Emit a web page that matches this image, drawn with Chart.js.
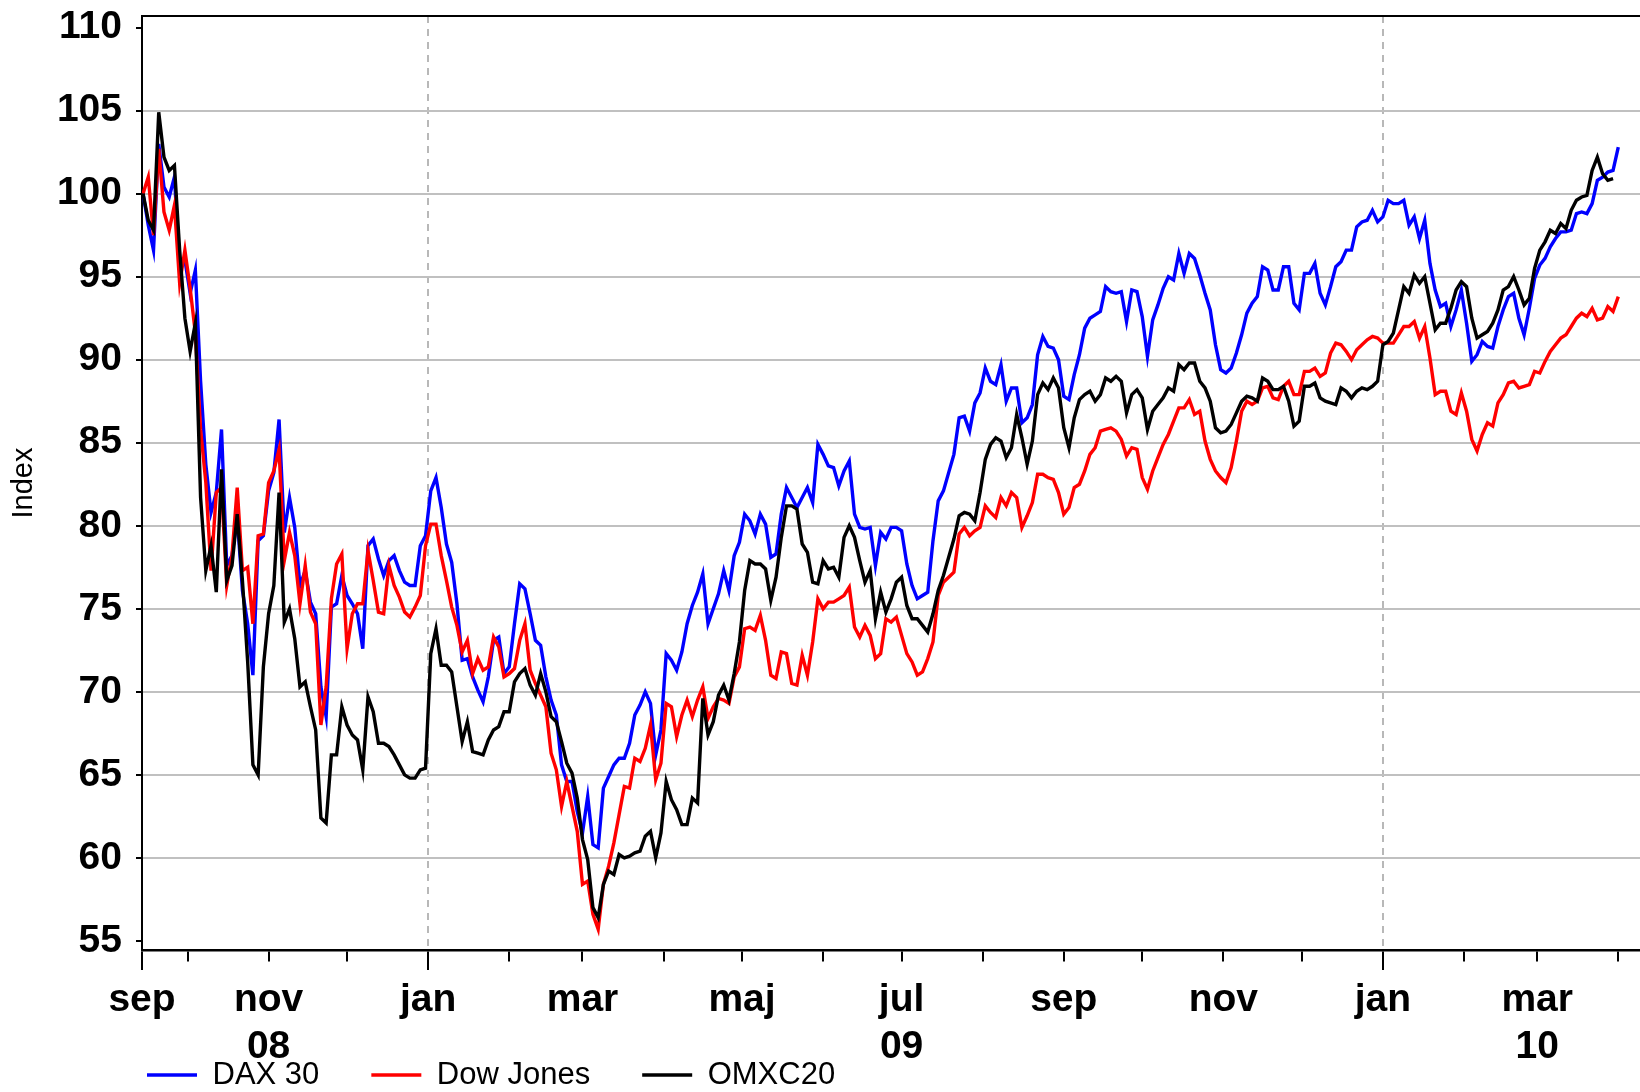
<!DOCTYPE html>
<html>
<head>
<meta charset="utf-8">
<title>DAX 30, Dow Jones, OMXC20</title>
<script src="https://cdn.jsdelivr.net/npm/chart.js@4.4.1/dist/chart.umd.min.js"></script>
<style>
  html, body { margin: 0; padding: 0; background: #ffffff; }
  #wrap { width: 1640px; height: 1092px; }
</style>
</head>
<body>
<div id="wrap"><canvas id="myChart" width="1640" height="1092"></canvas></div>
<script>
// x = days since 1 Sep 2008, one reading every 2nd day from 14 Sep 2008
const firstDay = 13;
const stepDays = 2;

const dax30 = [
  100, 98.1, 96.6, 103, 100.4, 99.8, 101, 95.7, 96, 94,
  95.4, 88.7, 83.7, 80.8, 82, 85.8, 77.6, 78.2, 80.5, 76.1,
  74.1, 71, 79.1, 79.4, 82.1, 83.2, 86.4, 79.6, 81.7, 79.9,
  76.4, 77.3, 75.4, 74.7, 70.3, 68.5, 75.1, 75.3, 77, 75.8,
  75.3, 74.7, 72.6, 78.8, 79.2, 78, 77, 77.9, 78.2, 77.3,
  76.6, 76.4, 76.4, 78.8, 79.4, 82.1, 82.9, 81.1, 78.9, 77.8,
  75.3, 71.9, 72, 70.9, 70.1, 69.4, 70.9, 73.1, 73.3, 71.1,
  71.5, 74.1, 76.5, 76.2, 74.7, 73.1, 72.8, 70.9, 69.5, 68.6,
  65.6, 64.6, 64.6, 62.8, 61.5, 63.7, 60.8, 60.6, 64.2, 64.9,
  65.6, 66, 66, 66.9, 68.6, 69.2, 70, 69.3, 66.2, 67.7,
  72.3, 71.9, 71.3, 72.4, 74.1, 75.2, 76, 77.1, 74.1, 75,
  75.9, 77.3, 76.1, 78.2, 79, 80.7, 80.3, 79.5, 80.7, 80.1,
  78.1, 78.3, 80.7, 82.3, 81.7, 81.1, 81.7, 82.3, 81.4, 84.9,
  84.3, 83.6, 83.5, 82.4, 83.3, 83.9, 80.7, 79.9, 79.8, 79.9,
  77.6, 79.6, 79.2, 79.9, 79.9, 79.7, 77.7, 76.4, 75.6, 75.8,
  76, 79.1, 81.5, 82.1, 83.2, 84.3, 86.5, 86.6, 85.7, 87.4,
  88, 89.5, 88.7, 88.5, 89.7, 87.5, 88.3, 88.3, 86.2, 86.5,
  87.3, 90.3, 91.4, 90.8, 90.7, 90, 87.8, 87.6, 89.1, 90.3,
  91.9, 92.5, 92.7, 92.9, 94.4, 94.1, 94, 94.1, 92.3, 94.2,
  94.1, 92.6, 90.2, 92.4, 93.3, 94.3, 95, 94.8, 96.4, 95.2,
  96.4, 96.1, 95.1, 94, 93, 90.9, 89.4, 89.2, 89.5, 90.4,
  91.5, 92.8, 93.4, 93.8, 95.6, 95.4, 94.2, 94.2, 95.6, 95.6,
  93.4, 93, 95.2, 95.2, 95.8, 94, 93.3, 94.4, 95.6, 95.9,
  96.6, 96.6, 98, 98.3, 98.4, 99, 98.3, 98.6, 99.6, 99.4,
  99.4, 99.6, 98.1, 98.6, 97.3, 98.4, 95.8, 94.2, 93.2, 93.4,
  92, 93, 94.2, 92.2, 89.9, 90.3, 91.1, 90.8, 90.7, 92,
  93, 93.8, 94, 92.5, 91.5, 93.1, 94.9, 95.7, 96.1, 96.8,
  97.3, 97.7, 97.7, 97.8, 98.8, 98.9, 98.8, 99.4, 100.8, 101,
  101.3, 101.4, 102.8
];

const dowJones = [
  100, 101, 97.5, 102.7, 98.9, 97.8, 99.3, 94.6, 96.6, 94.3,
  91.6, 85.8, 82.6, 77.3, 82, 82.3, 76.4, 78.2, 82.3, 77.3,
  77.5, 74.1, 79.4, 79.5, 82.6, 83.3, 84.6, 77.9, 79.6, 78.2,
  75.3, 77.6, 74.8, 74.1, 68, 70.3, 75.6, 77.7, 78.3, 72.6,
  74.7, 75.3, 75.3, 78.5, 76.7, 74.8, 74.7, 77.6, 76.4, 75.7,
  74.8, 74.5, 75.1, 75.8, 78.8, 80.1, 80.1, 78.2, 76.7, 75.1,
  74, 72.4, 73.1, 71.1, 72, 71.3, 71.5, 73.3, 72.7, 70.9,
  71.1, 71.4, 73.1, 74.1, 71.3, 70.5, 69.8, 69.1, 66.3, 65.3,
  63.1, 64.6, 63.1, 61.6, 58.4, 58.6, 56.6, 55.7, 58.4, 59.5,
  60.9, 62.6, 64.3, 64.2, 66, 65.8, 66.6, 68, 64.7, 65.7,
  69.3, 69.1, 67.3, 68.6, 69.5, 68.5, 69.5, 70.3, 68.4, 69.1,
  69.6, 69.5, 69.3, 70.9, 71.5, 73.8, 73.9, 73.7, 74.6, 73.1,
  71, 70.8, 72.4, 72.3, 70.5, 70.4, 72.2, 71, 73, 75.6,
  75, 75.4, 75.4, 75.6, 75.8, 76.3, 73.9, 73.3, 74, 73.4,
  72, 72.3, 74.4, 74.2, 74.5, 73.4, 72.3, 71.8, 71, 71.2,
  72, 73, 75.8, 76.6, 76.9, 77.2, 79.5, 79.9, 79.4, 79.7,
  79.9, 81.2, 80.8, 80.5, 81.7, 81.2, 82, 81.7, 79.9, 80.6,
  81.4, 83.1, 83.1, 82.9, 82.8, 82, 80.7, 81.1, 82.3, 82.5,
  83.3, 84.3, 84.7, 85.7, 85.8, 85.9, 85.7, 85.2, 84.2, 84.7,
  84.6, 82.9, 82.2, 83.3, 84.1, 84.9, 85.5, 86.3, 87.1, 87.1,
  87.6, 86.7, 86.9, 85.1, 84, 83.3, 82.9, 82.6, 83.5, 85.1,
  86.9, 87.5, 87.3, 87.5, 88.3, 88.4, 87.7, 87.6, 88.4, 88.7,
  87.9, 87.9, 89.3, 89.3, 89.5, 89, 89.2, 90.4, 91, 90.9,
  90.5, 90, 90.6, 90.9, 91.2, 91.4, 91.3, 91, 91, 91,
  91.5, 92, 92, 92.3, 91.3, 92, 90.1, 87.9, 88.1, 88.1,
  86.9, 86.7, 88, 86.9, 85.2, 84.5, 85.5, 86.2, 86, 87.4,
  87.9, 88.6, 88.7, 88.3, 88.4, 88.5, 89.3, 89.2, 89.9, 90.5,
  90.9, 91.3, 91.5, 92, 92.5, 92.8, 92.6, 93.1, 92.4, 92.5,
  93.2, 92.9, 93.8
];

const omxc20 = [
  100, 98.4, 97.8, 104.9, 102.2, 101.4, 101.7, 96.6, 92.5, 90.5,
  92.2, 81.7, 77.3, 78.8, 76, 83.4, 76.7, 77.6, 80.7, 76.7,
  71.8, 65.6, 65, 71.5, 74.7, 76.4, 82, 74.2, 75, 73.2,
  70.3, 70.6, 69.1, 67.7, 62.4, 62.1, 66.2, 66.2, 69.1, 68,
  67.4, 67.1, 65.3, 69.7, 68.8, 66.9, 66.9, 66.7, 66.2, 65.6,
  65, 64.8, 64.8, 65.3, 65.4, 72.3, 73.8, 71.6, 71.6, 71.2,
  69.1, 67, 68.2, 66.4, 66.3, 66.2, 67.1, 67.7, 67.9, 68.8,
  68.8, 70.6, 71.1, 71.4, 70.4, 69.8, 71.1, 70, 68.5, 68.2,
  67, 65.7, 65.1, 63.6, 61.1, 59.9, 57, 56.4, 58.4, 59.2,
  59, 60.2, 60, 60.1, 60.3, 60.4, 61.3, 61.6, 60, 61.5,
  64.6, 63.5, 62.9, 62, 62, 63.6, 63.3, 69.6, 67.4, 68.2,
  69.8, 70.4, 69.5, 71.1, 73, 76.1, 77.9, 77.7, 77.7, 77.4,
  75.5, 76.9, 79.3, 81.2, 81.2, 81, 78.9, 78.4, 76.6, 76.5,
  77.9, 77.4, 77.5, 76.9, 79.3, 80, 79.3, 77.9, 76.6, 77.3,
  74.4, 76, 74.8, 75.6, 76.6, 76.9, 75.2, 74.4, 74.4, 74,
  73.6, 74.7, 76.1, 77, 78.1, 79.2, 80.6, 80.8, 80.7, 80.3,
  82, 84, 84.9, 85.3, 85.1, 84.1, 84.7, 86.7, 85.3, 83.7,
  85.1, 87.9, 88.6, 88.2, 88.9, 88.3, 85.9, 84.7, 86.5, 87.6,
  87.9, 88.1, 87.5, 87.9, 88.9, 88.7, 89, 88.7, 86.8, 87.9,
  88.2, 87.7, 85.8, 86.9, 87.3, 87.7, 88.3, 88.1, 89.7, 89.4,
  89.8, 89.8, 88.7, 88.3, 87.5, 85.9, 85.6, 85.7, 86.1, 86.8,
  87.5, 87.8, 87.7, 87.5, 88.9, 88.7, 88.2, 88.2, 88.4, 87.5,
  86, 86.3, 88.4, 88.4, 88.6, 87.7, 87.5, 87.4, 87.3, 88.3,
  88.1, 87.7, 88.1, 88.3, 88.2, 88.4, 88.7, 90.9, 91.1, 91.6,
  93, 94.4, 94, 95.1, 94.6, 95, 93.4, 91.8, 92.2, 92.2,
  93.1, 94.2, 94.7, 94.4, 92.5, 91.3, 91.5, 91.7, 92.2, 93,
  94.2, 94.4, 95, 94.2, 93.3, 93.7, 95.5, 96.6, 97.1, 97.8,
  97.6, 98.2, 97.9, 99, 99.6, 99.8, 99.9, 101.4, 102.2, 101.2,
  100.8, 100.9, null
];

// month starts (days since 1 Sep 2008); first entry is the axis start
const monthTicks = [12.6, 30, 61, 91, 122, 153, 181, 212, 242, 273, 303, 334, 365, 395, 426, 456, 487, 518, 546, 577];
const monthLabels = ['sep', '', ['nov', '08'], '', 'jan', '', 'mar', '', 'maj', '', ['jul', '09'], '', 'sep', '', 'nov', '', 'jan', '', ['mar', '10'], ''];
const majorTicks = [12.6, 122, 487];
const yearLines = [122, 487];
const yTicks = [55, 60, 65, 70, 75, 80, 85, 90, 95, 100, 105, 110];

const days = dax30.map((_, i) => firstDay + i * stepDays);

const FONT = "'Liberation Sans', Arial, Helvetica, sans-serif";
const PLOT_TOP = 16;
const PLOT_BOTTOM = 950;
const PLOT_LEFT = 142;

// legend takes no layout room; it is moved to the bottom left corner
const legendPlacer = {
    id: 'legendPlacer',
    afterLayout(chart) {
        const lg = chart.legend;
        const pad = lg.options.labels.padding;
        lg.left = 147 - pad;
        lg.top = 1059.5 - pad;
        lg.right = chart.width;
        lg.bottom = chart.height;
    }
};

var ctx = document.getElementById('myChart').getContext('2d');
var myChart = new Chart(ctx, {
    type: 'line',
    data: {
        labels: days,
        datasets: [
            { label: 'DAX 30', data: dax30, borderColor: '#0000ff', backgroundColor: '#0000ff', borderWidth: 3.4, order: 3 },
            { label: 'Dow Jones', data: dowJones, borderColor: '#ff0000', backgroundColor: '#ff0000', borderWidth: 3.4, order: 2 },
            { label: 'OMXC20', data: omxc20, borderColor: '#000000', backgroundColor: '#000000', borderWidth: 3.4, order: 1 }
        ]
    },
    options: {
        responsive: false,
        animation: false,
        layout: { padding: { top: PLOT_TOP, left: 0, right: 0, bottom: 0 } },
        elements: {
            point: { radius: 0 },
            line: { tension: 0 }
        },
        plugins: {
            tooltip: { enabled: false },
            legend: {
                position: 'bottom',
                align: 'start',
                maxHeight: 1,
                labels: {
                    usePointStyle: true,
                    pointStyle: 'line',
                    pointStyleWidth: 50,
                    padding: 52,
                    color: '#000',
                    font: { family: FONT, size: 31 },
                    sort: (a, b) => a.datasetIndex - b.datasetIndex
                }
            }
        },
        scales: {
            x: {
                type: 'linear',
                position: 'bottom',
                min: 12.6,
                max: 585.3,
                afterBuildTicks: s => { s.ticks = monthTicks.map(v => ({ value: v })); },
                afterFit: s => {
                    const lgH = (s.chart.legend && s.chart.legend.height) || 1;
                    s.height = s.chart.height - PLOT_BOTTOM - lgH;
                    s.paddingLeft = 0;
                    s.paddingRight = 0;
                },
                ticks: {
                    autoSkip: false,
                    maxRotation: 0,
                    minRotation: 0,
                    padding: 7,
                    color: '#000',
                    font: { family: FONT, size: 39, weight: 'bold', lineHeight: 47 / 39 },
                    callback: (v, i) => monthLabels[i]
                },
                grid: {
                    color: c => (c.tick && yearLines.includes(c.tick.value)) ? '#b8b8b8' : 'rgba(0,0,0,0)',
                    lineWidth: 2,
                    tickLength: 20,
                    tickWidth: 2,
                    tickColor: '#000',
                    tickBorderDash: c => (c.tick && majorTicks.includes(c.tick.value)) ? [] : [10, 40]
                },
                border: { display: true, color: '#000', width: 2.5, dash: [7, 6] }
            },
            xTop: {
                type: 'linear',
                position: 'top',
                min: 12.6,
                max: 585.3,
                ticks: { display: false },
                grid: { display: false, drawTicks: false },
                border: { display: true, color: '#000', width: 2 },
                afterFit: s => { s.height = 0; s.paddingLeft = 0; s.paddingRight = 0; }
            },
            y: {
                min: 54.45,
                max: 110.7,
                afterBuildTicks: s => { s.ticks = yTicks.map(v => ({ value: v })); },
                afterFit: s => {
                    s.width = PLOT_LEFT;
                    s.paddingTop = 0;
                    s.paddingBottom = 0;
                },
                ticks: {
                    padding: 14,
                    color: '#000',
                    font: { family: FONT, size: 39, weight: 'bold' }
                },
                grid: {
                    color: c => (c.tick && (c.tick.value === 55 || c.tick.value === 110)) ? 'rgba(0,0,0,0)' : '#c0c0c0',
                    lineWidth: 2,
                    tickLength: 6,
                    tickWidth: 2,
                    tickColor: '#000'
                },
                border: { display: true, color: '#000', width: 2 },
                title: {
                    display: true,
                    text: 'Index',
                    color: '#000',
                    font: { family: FONT, size: 29 },
                    padding: { top: 7, bottom: 0 }
                }
            }
        }
    },
    plugins: [legendPlacer]
});
</script>
</body>
</html>
